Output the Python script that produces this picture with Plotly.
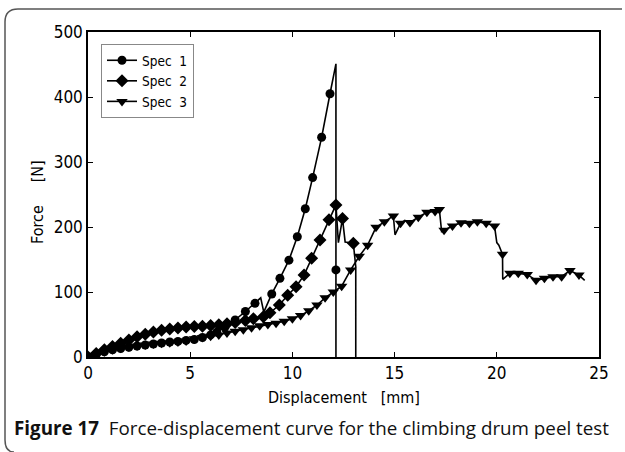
import plotly.graph_objects as go

# ---------------- data ----------------
# Spec 1 (circles)
spec1_x = [0, 0.4, 0.8, 1.2, 1.6, 2.0, 2.4, 2.8, 3.2, 3.6, 4.0, 4.4, 4.8, 5.2, 5.6, 6.0, 6.3, 6.7, 7.2, 7.7,
           8.17, 8.45, 8.6, 8.99, 9.39, 9.83, 10.24, 10.63, 10.99, 11.43, 11.84, 12.13, 12.13, 12.13]
spec1_y = [0, 4, 8, 11, 13, 15, 17, 18.5, 20, 21.5, 23, 24, 25.5, 27, 30, 34, 38, 46, 57, 70,
           82.6, 91, 69, 97, 121, 149, 185, 228, 276, 338, 405, 451, 134, 0]
spec1_m = [1, 1, 1, 1, 1, 1, 1, 1, 1, 1, 1, 1, 1, 1, 1, 1, 1, 1, 1, 1,
           1, 0, 0, 1, 1, 1, 1, 1, 1, 1, 1, 0, 1, 0]

# Spec 2 (diamonds)
spec2_x = [0, 0.4, 0.8, 1.2, 1.6, 2.0, 2.4, 2.8, 3.2, 3.6, 4.0, 4.4, 4.8, 5.2, 5.6, 6.0, 6.4, 6.8, 7.2, 7.7,
           8.09, 8.58, 8.9, 9.36, 9.77, 10.18, 10.57, 10.94, 11.35, 11.79, 12.13, 12.25, 12.45, 12.58, 12.98, 13.1, 13.1]
spec2_y = [0, 5.5, 11, 16, 21, 26, 31, 35, 38.5, 41, 43, 44.5, 46, 47, 47.5, 48.5, 49.5, 51, 53, 56,
           59, 62, 68, 80, 95, 108, 126, 152, 180, 211, 234, 176, 213, 177, 175, 139, 0]
spec2_m = [1, 1, 1, 1, 1, 1, 1, 1, 1, 1, 1, 1, 1, 1, 1, 1, 1, 1, 1, 1,
           1, 1, 1, 1, 1, 1, 1, 1, 1, 1, 1, 0, 1, 0, 1, 0, 0]

# Spec 3 (down triangles)
spec3_x = [0, 0.4, 0.8, 1.2, 1.6, 2.0, 2.4, 2.8, 3.2, 3.6, 4.0, 4.4, 4.8, 5.2, 5.6, 6.0, 6.4, 6.8, 7.2, 7.6,
           8.0, 8.4, 8.8, 9.2, 9.6, 10.0, 10.4, 10.8, 11.2, 11.6, 12.0, 12.41, 12.85, 13.27, 13.68, 14.09,
           14.5, 14.94, 15.02, 15.29, 15.5, 15.75, 16.16, 16.58, 16.98, 17.19, 17.3, 17.42, 17.83, 18.25,
           18.66, 19.05, 19.48, 19.89, 20.0, 20.1, 20.28, 20.29, 20.64, 21.05, 21.49, 21.92, 22.33, 22.75,
           23.17, 23.58, 24.02, 24.3]
spec3_y = [0, 4, 8, 11, 13.5, 15.5, 17, 18.5, 20, 21, 22, 23, 24.5, 28, 30, 32, 34, 37, 39.5, 42,
           45, 48, 50, 52, 55, 59, 64, 71, 80, 91, 100, 109, 134, 155, 172, 199.5,
           208, 217, 188, 205.6, 210, 207, 215, 222.6, 224, 227, 193, 195, 201.5, 206.6,
           205.6, 208, 205.6, 201.5, 176, 172, 158, 119.5, 128.7, 128.7, 127, 118, 121, 123.5,
           123.5, 133, 126, 118]
spec3_m = [1, 1, 1, 1, 1, 1, 1, 1, 1, 1, 1, 1, 1, 1, 1, 1, 1, 1, 1, 1,
           1, 1, 1, 1, 1, 1, 1, 1, 1, 1, 1, 1, 1, 1, 1, 1,
           1, 1, 0, 1, 0, 1, 1, 1, 1, 1, 0, 1, 1, 1,
           1, 1, 1, 1, 0, 0, 1, 0, 1, 1, 1, 1, 1, 1,
           1, 1, 1, 0]

series_names = ["Spec\u00a0\u00a01", "Spec\u00a0\u00a02", "Spec\u00a0\u00a03"]
symbols = ["circle", "diamond", "triangle-down"]
marker_sizes = [9, 10, 10]

x_ticks = [0, 5, 10, 15, 20, 25]
y_ticks = [0, 100, 200, 300, 400, 500]

x_title = "Displacement\u00a0\u00a0\u00a0[mm]"
y_title = "Force\u00a0\u00a0\u00a0\u00a0\u00a0[N]"
caption_bold = "Figure 17"
caption_text = "Force-displacement curve for the climbing drum peel test"

# ---------------- figure ----------------
W, H = 625, 452
L, R, T, B = 88, 26, 32, 95
pw, ph = W - L - R, H - T - B


def px(p):
    return (p - L) / pw


def py(p):
    return (H - B - p) / ph


fig = go.Figure()
narrow = "Liberation Sans Narrow, DejaVu Sans Condensed, sans-serif"
tick_font = dict(family=narrow, size=17, color="black")

all_series = [(spec1_x, spec1_y, spec1_m), (spec2_x, spec2_y, spec2_m), (spec3_x, spec3_y, spec3_m)]
for (xs, ys, ms), name, sym, sz in zip(all_series, series_names, symbols, marker_sizes):
    fig.add_trace(go.Scatter(x=xs, y=ys, mode="lines", line=dict(color="black", width=1.6),
                             showlegend=False, hoverinfo="skip"))
    mx = [x for x, m in zip(xs, ms) if m]
    my = [y for y, m in zip(ys, ms) if m]
    fig.add_trace(go.Scatter(x=mx, y=my, mode="markers",
                             marker=dict(symbol=sym, size=sz, color="black"),
                             showlegend=False))
    # legend entry
    fig.add_trace(go.Scatter(x=[None], y=[None], mode="lines+markers", name=name,
                             line=dict(color="black", width=1.6),
                             marker=dict(symbol=sym, size=sz, color="black")))

axis_common = dict(showline=True, linecolor="black", linewidth=1.5, mirror="ticks",
                   ticks="inside", ticklen=5, tickwidth=1, tickcolor="black",
                   showgrid=False, zeroline=False, tickfont=tick_font)

fig.update_layout(
    width=W, height=H,
    margin=dict(l=L, r=R, t=T, b=B, pad=0),
    paper_bgcolor="white", plot_bgcolor="white",
    xaxis=dict(range=[0, 25], tickvals=x_ticks, **axis_common),
    yaxis=dict(range=[0, 500], tickvals=y_ticks, **axis_common),
    legend=dict(x=px(101), y=py(44), xanchor="left", yanchor="top",
                bgcolor="white", bordercolor="#888888", borderwidth=1,
                font=dict(family=narrow, size=13.5, color="black"),
                tracegroupgap=0, itemwidth=30),
    showlegend=True,
)

fig.add_annotation(x=px(344), y=py(398), xref="paper", yref="paper", text=x_title,
                   showarrow=False, font=dict(family=narrow, size=16, color="black"),
                   xanchor="center", yanchor="middle")
fig.add_annotation(x=px(38), y=py(202), xref="paper", yref="paper", text=y_title, textangle=-90,
                   showarrow=False, font=dict(family=narrow, size=16, color="black"),
                   xanchor="center", yanchor="middle")
fig.add_annotation(x=px(12), y=py(428), xref="paper", yref="paper",
                   text="<b>" + caption_bold + "</b>\u00a0\u00a0" + caption_text,
                   showarrow=False, font=dict(family="Open Sans, Noto Sans, sans-serif", size=18.8, color="#111111"),
                   xanchor="left", yanchor="middle")

# outer rounded frame (top and left edges)
path = (f"M {px(622)},{py(9)} L {px(18)},{py(9)} Q {px(5)},{py(9)} {px(5)},{py(22)} "
        f"L {px(5)},{py(440)} Q {px(5)},{py(452)} {px(14)},{py(452)}")
fig.add_shape(type="path", path=path, xref="paper", yref="paper",
              line=dict(color="#555555", width=1.5), layer="below")

fig.write_html("out.html")
